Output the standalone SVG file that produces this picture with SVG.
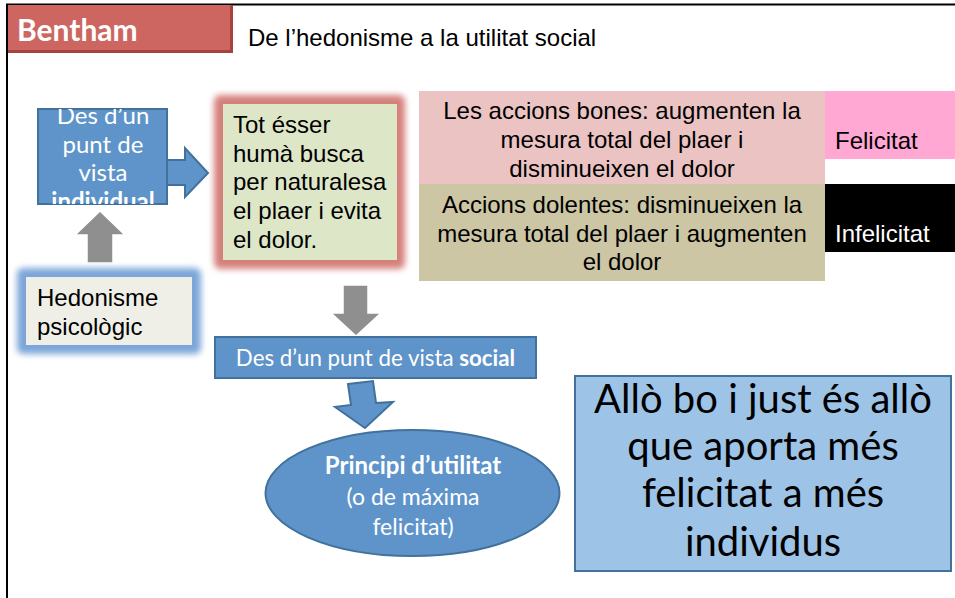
<svg xmlns="http://www.w3.org/2000/svg" width="955" height="598" viewBox="0 0 955 598">
<style>
.arial{font-family:"Liberation Sans",Arial,sans-serif;font-size:24px;fill:#000}
.cal{font-family:Lato,"Open Sans",sans-serif;font-size:24px;fill:#fff}
.blue{fill:#5E94C9;stroke:#41719C;stroke-width:2}
.gray{fill:#8F8F8F;stroke:#fff;stroke-width:1.5}
.mid{text-anchor:middle}
</style>
<defs>
<filter id="glow" x="-30%" y="-30%" width="160%" height="160%">
<feGaussianBlur stdDeviation="3"/>
</filter>
<clipPath id="clipInd"><rect x="38" y="109" width="130" height="95"/></clipPath>
</defs>
<rect width="955" height="598" fill="#fff"/>
<path d="M7,598 V4.5 H955" fill="none" stroke="#000" stroke-width="2"/>

<g id="header">
<rect x="8" y="5" width="225" height="48" fill="#A8423E"/>
<rect x="8" y="5" width="222" height="45" fill="#CD6660"/>
<text x="17" y="41" font-family="Lato,'Open Sans',sans-serif" font-size="30" font-weight="bold" fill="#fff">Bentham</text>
</g>
<g id="title">
<text x="248" y="46" class="arial">De l’hedonisme a la utilitat social</text>
</g>

<g id="connectors">
<path class="blue" d="M167,160 H185 V148 L208,173 L185,197 V185 H167 Z"/>
<path class="gray" d="M87,263 V235 H75 L100,211 L125,235 H113 V263 Z"/>
<path class="gray" d="M343,285 H368 V313 H381 L356,336 L331,313 H343 Z"/>
<path class="blue" d="M348,384 L373,381 L376,403 L393,402 L365,428 L335,407 L351,405 Z"/>
</g>

<g id="individual">
<rect class="blue" x="38" y="109" width="129" height="95" stroke-width="1.5"/>
<g clip-path="url(#clipInd)" class="cal mid">
<text x="103" y="124">Des d’un</text>
<text x="103" y="153">punt de</text>
<text x="103" y="181">vista</text>
<text x="103" y="210" font-weight="bold">individual</text>
</g>
</g>

<g id="hedonisme">
<rect x="17" y="268" width="184" height="86" rx="6" fill="#7CA6D8" filter="url(#glow)"/>
<rect x="26" y="277" width="166" height="68" fill="#EFEFE7"/>
<text class="arial" x="37" y="306">Hedonisme</text>
<text class="arial" x="37" y="335">psicològic</text>
</g>

<g id="tot">
<rect x="214" y="95" width="191" height="174" rx="6" fill="#D4807C" filter="url(#glow)"/>
<rect x="223" y="104" width="174" height="156" fill="#DEE6C8"/>
<text class="arial" x="233" y="133">Tot ésser</text>
<text class="arial" x="233" y="162">humà busca</text>
<text class="arial" x="233" y="190">per naturalesa</text>
<text class="arial" x="233" y="219">el plaer i evita</text>
<text class="arial" x="233" y="248">el dolor.</text>
</g>

<g id="bones">
<rect x="419" y="91" width="406" height="93" fill="#EBC3C3"/>
<text class="arial mid" x="622" y="119">Les accions bones: augmenten la</text>
<text class="arial mid" x="622" y="148">mesura total del plaer i</text>
<text class="arial mid" x="622" y="177">disminueixen el dolor</text>
</g>
<g id="felicitat">
<rect x="825" y="91" width="130" height="68" fill="#FFA8D4"/>
<text class="arial" x="835" y="149">Felicitat</text>
</g>
<g id="dolentes">
<rect x="419" y="184" width="406" height="97" fill="#CCC6A4"/>
<text class="arial mid" x="622" y="213">Accions dolentes: disminueixen la</text>
<text class="arial mid" x="622" y="242">mesura total del plaer i augmenten</text>
<text class="arial mid" x="622" y="270">el dolor</text>
</g>
<g id="infelicitat">
<rect x="825" y="184" width="130" height="68" fill="#000"/>
<text class="arial" x="835" y="242" style="fill:#fff">Infelicitat</text>
</g>

<g id="social">
<rect class="blue" x="215" y="337" width="321" height="41"/>
<text class="cal mid" x="375.5" y="366" style="font-size:22.3px">Des d’un punt de vista <tspan font-weight="bold">social</tspan></text>
</g>

<g id="principi">
<ellipse class="blue" cx="412.5" cy="493" rx="147" ry="63"/>
<text class="cal mid" x="413" y="474" font-weight="bold">Principi d’utilitat</text>
<text class="cal mid" x="413" y="505" style="font-size:23px">(o de máxima</text>
<text class="cal mid" x="413" y="535" style="font-size:23px">felicitat)</text>
</g>

<g id="allo">
<rect x="575" y="376" width="376" height="195" fill="#9DC3E6" stroke="#41719C" stroke-width="2"/>
<g font-family="Lato,'Open Sans',sans-serif" font-size="40" fill="#000" text-anchor="middle">
<text x="763" y="413">Allò bo i just és allò</text>
<text x="763" y="460">que aporta més</text>
<text x="763" y="507">felicitat a més</text>
<text x="763" y="556">individus</text>
</g>
</g>
</svg>
